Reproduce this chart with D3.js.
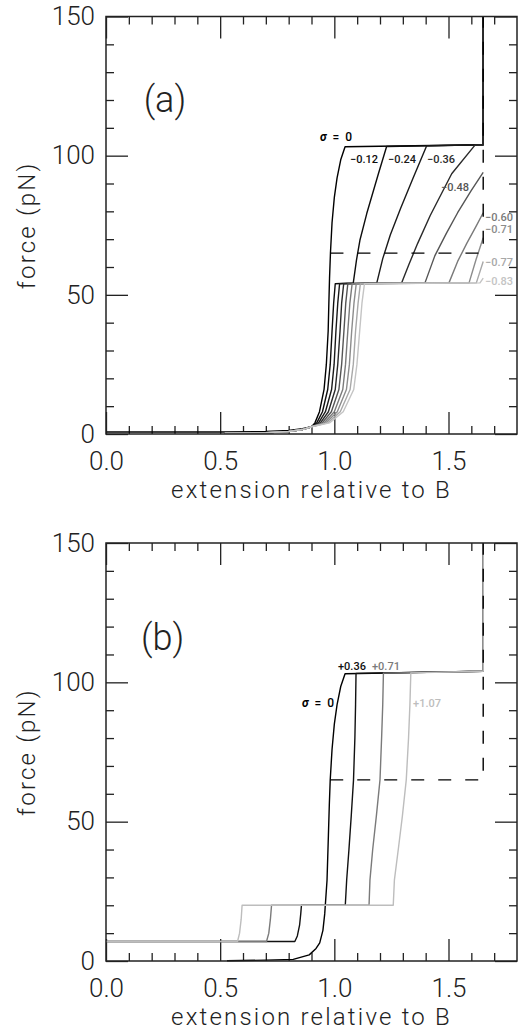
<!DOCTYPE html>
<html>
<head>
<meta charset="utf-8">
<script src="https://cdn.jsdelivr.net/npm/d3@7"></script>
<style>
  html, body { margin: 0; padding: 0; background: #fff; }
  svg { display: block; }
  text { font-family: Roboto, "Liberation Sans", sans-serif; }
</style>
</head>
<body>
<svg id="fig" width="532" height="1032"></svg>
<script>
// ---- axis ticks ----
const xMajorTicks = [0, 0.5, 1.0, 1.5];
const xMinorTicks = [0.1, 0.2, 0.3, 0.4, 0.6, 0.7, 0.8, 0.9, 1.1, 1.2, 1.3, 1.4, 1.6, 1.7];
const yMajorTicks = [0, 50, 100, 150];
const yMinorTicks = [10, 20, 30, 40, 60, 70, 80, 90, 110, 120, 130, 140];

// ---- panel (a): force vs extension, negative supercoiling [extension, force pN] ----
const a_s0 = [[0,0.7],[0.5,0.7],[0.7,0.9],[0.8,1.3],[0.86,1.9],[0.9,2.6],[0.915,4],[0.935,8],[0.955,16],[0.965,25],[0.973,37],[0.976,47],[0.979,56],[0.983,65],[0.99,76],[1.0,85],[1.012,92],[1.028,98.5],[1.047,103.2],[1.652,103.9],[1.652,150]];
const a_m012 = [[0.52,0.25],[0.7,0.45],[0.8,0.9],[0.86,1.6],[0.9,2.6],[0.923,4],[0.948,8],[0.971,16],[0.982,25],[0.990,37],[0.997,47],[1.004,54],[1.083,54.3],[1.097,62.5],[1.112,69.6],[1.142,79.2],[1.193,93.5],[1.229,103.3],[1.652,103.9],[1.652,150]];
const a_m024 = [[0.52,0.25],[0.7,0.45],[0.8,0.9],[0.86,1.6],[0.9,2.6],[0.931,4],[0.961,8],[0.988,16],[0.999,25],[1.007,37],[1.015,47],[1.023,54],[1.186,54.3],[1.212,63],[1.245,71.5],[1.29,81],[1.345,92],[1.404,103.5],[1.652,103.9],[1.652,150]];
const a_m036 = [[0.52,0.25],[0.7,0.45],[0.8,0.9],[0.86,1.6],[0.9,2.6],[0.939,4],[0.974,8],[1.004,16],[1.015,25],[1.025,37],[1.032,47],[1.041,54],[1.295,54.3],[1.327,61],[1.365,68.5],[1.42,78.5],[1.514,93.5],[1.616,103.8],[1.652,103.9],[1.652,150]];
const a_m048 = [[0.52,0.25],[0.7,0.45],[0.8,0.9],[0.86,1.6],[0.9,2.6],[0.947,4],[0.987,8],[1.020,16],[1.032,25],[1.042,37],[1.050,47],[1.059,54],[1.397,54.3],[1.44,64],[1.49,72],[1.54,79.5],[1.60,87.5],[1.652,94]];
const a_m060 = [[0.52,0.25],[0.7,0.45],[0.8,0.9],[0.86,1.6],[0.9,2.6],[0.955,4],[1.0,8],[1.037,16],[1.049,25],[1.059,37],[1.068,47],[1.078,54],[1.502,54.3],[1.54,62],[1.58,68.5],[1.62,74.5],[1.652,79.5]];
const a_m071 = [[0.52,0.25],[0.7,0.45],[0.8,0.9],[0.86,1.6],[0.9,2.6],[0.963,4],[1.013,8],[1.053,16],[1.066,25],[1.076,37],[1.086,47],[1.096,54],[1.59,54.3],[1.62,62.5],[1.652,70.5]];
const a_m077 = [[0.52,0.25],[0.7,0.45],[0.8,0.9],[0.86,1.6],[0.9,2.6],[0.971,4],[1.026,8],[1.069,16],[1.083,25],[1.093,37],[1.104,47],[1.114,54],[1.622,54.3],[1.652,62]];
const a_m083 = [[0.52,0.25],[0.7,0.45],[0.8,0.9],[0.86,1.6],[0.9,2.6],[0.979,4],[1.039,8],[1.085,16],[1.099,25],[1.111,37],[1.121,47],[1.132,54],[1.638,54.3],[1.652,56]];
// torsionally unconstrained reference (dashed)
const a_free = [[0.983,65],[1.652,65],[1.652,150]];

const a_labels = ["σ = 0", "−0.12", "−0.24", "−0.36", "−0.48", "−0.60", "−0.71", "−0.77", "−0.83"];
const a_labelAt = [[0.937,105.4],[1.069,97.5],[1.235,97.5],[1.406,97.5],[1.467,87.4],[1.66,76.6],[1.66,72.1],[1.66,60.4],[1.66,53.5]];

// ---- panel (b): positive supercoiling ----
const b_s0 = [[0.53,0.1],[0.7,0.3],[0.82,0.6],[0.89,2.2],[0.92,4.5],[0.936,6.5],[0.95,11],[0.958,17],[0.968,29],[0.974,45],[0.978,56],[0.982,65],[0.99,76],[1.0,85],[1.012,92],[1.028,98.5],[1.047,103.1],[1.652,104],[1.652,150]];
const b_p036 = [[0,7],[0.827,7],[0.838,9],[0.848,13],[0.853,17],[0.856,20],[1.048,20],[1.054,29],[1.064,40],[1.074,52],[1.084,65],[1.09,80],[1.093,92],[1.095,103.2],[1.652,104],[1.652,150]];
const b_p071 = [[0,7],[0.703,7],[0.713,10],[0.72,15],[0.725,20],[1.152,20],[1.156,29],[1.168,40],[1.184,52],[1.2,65],[1.207,80],[1.212,92],[1.215,103.3],[1.652,104],[1.652,150]];
const b_p107 = [[0,7],[0.576,7],[0.585,10],[0.592,15],[0.596,20],[1.258,20],[1.263,29],[1.28,40],[1.298,52],[1.315,65],[1.325,80],[1.331,92],[1.335,103.4],[1.652,104],[1.652,150]];
const b_free = [[0.982,65],[1.652,65],[1.652,150]];

const b_labels = ["σ = 0", "+0.36", "+0.71", "+1.07"];
const b_labelAt = [[0.858,91.2],[1.016,104.4],[1.165,104.4],[1.345,91.2]];

// ---- styles ----
const a_greys = ["#000000", "#0d0d0d", "#1a1a1a", "#2a2a2a", "#555555", "#7a7a7a", "#8c8c8c", "#a8a8a8", "#c4c4c4"];
const b_greys = ["#000000", "#111111", "#7a7a7a", "#bdbdbd"];
const AXIS = "#222";

const panels = [
  { tag: "(a)", tagAt: [0.258, 115.7], curves: [a_s0, a_m012, a_m024, a_m036, a_m048, a_m060, a_m071, a_m077, a_m083],
    greys: a_greys, free: a_free, labels: a_labels, labelAt: a_labelAt, top: 16.5, bottom: 434 },
  { tag: "(b)", tagAt: [0.248, 111.6], curves: [b_s0, b_p036, b_p071, b_p107],
    greys: b_greys, free: b_free, labels: b_labels, labelAt: b_labelAt, top: 543, bottom: 961 }
];

const LEFT = 106, RIGHT = 517;
const svg = d3.select("#fig");

function styleAxis(g) {
  g.select(".domain").remove();
  g.selectAll(".tick line").attr("stroke", AXIS).attr("stroke-width", 1.3);
  g.selectAll("text").attr("fill", "#222").attr("font-family", "Roboto, 'Liberation Sans', sans-serif")
    .attr("font-weight", 300).attr("font-size", 26);
  g.attr("font-family", null).attr("font-size", null);
}

panels.forEach(p => {
  const x = d3.scaleLinear().domain([0, 1.8]).range([LEFT, RIGHT]);
  const y = d3.scaleLinear().domain([0, 150]).range([p.bottom, p.top]);
  const g = svg.append("g");

  // ticks on all four sides, pointing inward
  g.append("g").attr("transform", `translate(0,${p.bottom})`)
    .call(d3.axisBottom(x).tickValues(xMinorTicks).tickSize(-8).tickSizeOuter(0).tickFormat("")).call(styleAxis);
  g.append("g").attr("transform", `translate(0,${p.bottom})`)
    .call(d3.axisBottom(x).tickValues(xMajorTicks).tickSize(-22).tickSizeOuter(0).tickPadding(17.5).tickFormat(d3.format(".1f"))).call(styleAxis);
  g.append("g").attr("transform", `translate(0,${p.top})`)
    .call(d3.axisTop(x).tickValues(xMinorTicks).tickSize(-8).tickSizeOuter(0).tickFormat("")).call(styleAxis);
  g.append("g").attr("transform", `translate(0,${p.top})`)
    .call(d3.axisTop(x).tickValues(xMajorTicks).tickSize(-22).tickSizeOuter(0).tickFormat("")).call(styleAxis);
  g.append("g").attr("transform", `translate(${LEFT},0)`)
    .call(d3.axisLeft(y).tickValues(yMinorTicks).tickSize(-8).tickSizeOuter(0).tickFormat("")).call(styleAxis);
  g.append("g").attr("transform", `translate(${LEFT},0)`)
    .call(d3.axisLeft(y).tickValues(yMajorTicks).tickSize(-22).tickSizeOuter(0).tickPadding(11).tickFormat(d3.format("d"))).call(styleAxis);
  g.append("g").attr("transform", `translate(${RIGHT},0)`)
    .call(d3.axisRight(y).tickValues(yMinorTicks).tickSize(-8).tickSizeOuter(0).tickFormat("")).call(styleAxis);
  g.append("g").attr("transform", `translate(${RIGHT},0)`)
    .call(d3.axisRight(y).tickValues(yMajorTicks).tickSize(-22).tickSizeOuter(0).tickFormat("")).call(styleAxis);

  // curves: darkest first, lightest on top
  const line = d3.line().x(d => x(d[0])).y(d => y(d[1]));
  p.curves.forEach((c, i) => {
    g.append("path").datum(c).attr("d", line)
      .attr("fill", "none").attr("stroke", p.greys[i]).attr("stroke-width", 1.4)
      .attr("stroke-linejoin", "round");
  });
  g.append("path").datum(p.free).attr("d", line)
    .attr("fill", "none").attr("stroke", "#000").attr("stroke-width", 1.4)
    .attr("stroke-dasharray", "13,14");

  // frame
  g.append("rect").attr("x", LEFT).attr("y", p.top).attr("width", RIGHT - LEFT).attr("height", p.bottom - p.top)
    .attr("fill", "none").attr("stroke", AXIS).attr("stroke-width", 1.5);

  // curve labels
  p.labels.forEach((t, i) => {
    const isSigma = t.startsWith("σ");
    const txt = g.append("text")
      .attr("x", x(p.labelAt[i][0])).attr("y", y(p.labelAt[i][1]))
      .attr("fill", p.greys[i] === "#000000" ? "#000" : p.greys[i])
      .attr("font-size", isSigma ? 12 : 11).attr("font-weight", 500)
      .style("word-spacing", isSigma ? "3px" : null);
    if (isSigma) {
      txt.append("tspan").attr("font-weight", 700).attr("font-style", "italic").text("σ");
      txt.append("tspan").text(t.slice(1));
    } else {
      txt.text(t);
    }
  });

  // panel tag
  g.append("text").attr("x", x(p.tagAt[0])).attr("y", y(p.tagAt[1]))
    .attr("text-anchor", "middle").attr("font-size", 36).attr("font-weight", 300).attr("fill", "#222")
    .text(p.tag);

  // axis titles
  g.append("text").attr("x", (LEFT + RIGHT) / 2).attr("y", p.bottom + 64)
    .attr("text-anchor", "middle").attr("font-size", 24).attr("font-weight", 300).attr("fill", "#222")
    .style("letter-spacing", "2.2px").text("extension relative to B");
  g.append("text")
    .attr("transform", `translate(35,${(p.top + p.bottom) / 2}) rotate(-90)`)
    .attr("text-anchor", "middle").attr("font-size", 24).attr("font-weight", 300).attr("fill", "#222")
    .style("letter-spacing", "2.2px").text("force (pN)");
});
</script>
</body>
</html>
